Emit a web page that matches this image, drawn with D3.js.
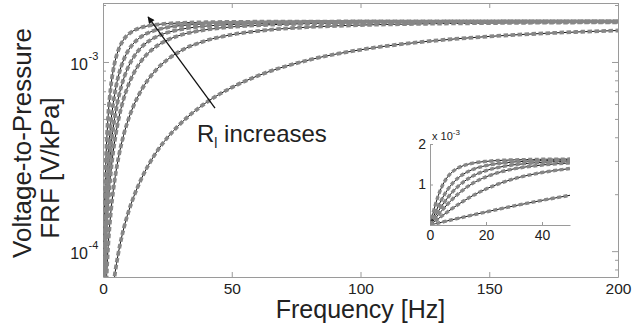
<!DOCTYPE html>
<html>
<head>
<meta charset="utf-8">
<script src="https://cdn.jsdelivr.net/npm/d3@7"></script>
<style>
  body { margin: 0; background: #fff; }
  text { font-family: Arial, "Liberation Sans", sans-serif; fill: #222; }
</style>
</head>
<body>
<div id="chart"></div>
<script>
// Frequencies of the read points [Hz]
const freqHz = [0.1, 0.25, 0.5, 1, 1.5, 2, 3, 4, 5, 6, 8, 10, 12, 15, 20, 25, 30, 40, 50, 60, 80, 100, 125, 150, 175, 200];

// FRF magnitude, in units of 10^-3 V/kPa, one array per load resistance (largest R_l first)
const frfRl6 = [0.027, 0.068, 0.136, 0.270, 0.398, 0.519, 0.733, 0.910, 1.050, 1.160, 1.312, 1.406, 1.467, 1.523, 1.571, 1.595, 1.608, 1.622, 1.628, 1.632, 1.635, 1.637, 1.638, 1.639, 1.639, 1.639];
const frfRl5 = [0.016, 0.041, 0.082, 0.163, 0.243, 0.322, 0.471, 0.609, 0.733, 0.844, 1.025, 1.160, 1.260, 1.365, 1.467, 1.523, 1.556, 1.591, 1.608, 1.618, 1.627, 1.632, 1.635, 1.636, 1.637, 1.638];
const frfRl4 = [0.012, 0.029, 0.059, 0.117, 0.175, 0.232, 0.344, 0.451, 0.552, 0.646, 0.814, 0.953, 1.067, 1.199, 1.344, 1.431, 1.486, 1.548, 1.579, 1.597, 1.615, 1.624, 1.630, 1.633, 1.635, 1.636];
const frfRl3 = [0.009, 0.022, 0.043, 0.086, 0.129, 0.172, 0.256, 0.338, 0.417, 0.494, 0.637, 0.764, 0.876, 1.018, 1.189, 1.306, 1.386, 1.481, 1.533, 1.563, 1.596, 1.611, 1.621, 1.627, 1.630, 1.633];
const frfRl2 = [0.005, 0.013, 0.027, 0.053, 0.079, 0.106, 0.158, 0.210, 0.261, 0.312, 0.410, 0.504, 0.592, 0.714, 0.889, 1.029, 1.141, 1.296, 1.394, 1.457, 1.529, 1.567, 1.592, 1.606, 1.615, 1.621];
const frfRl1 = [0.0016, 0.0041, 0.0082, 0.0164, 0.0246, 0.0328, 0.0492, 0.0655, 0.0819, 0.0982, 0.131, 0.163, 0.195, 0.243, 0.322, 0.398, 0.471, 0.609, 0.733, 0.844, 1.025, 1.160, 1.281, 1.365, 1.424, 1.467];

// Ticks
const xTicks = [0, 50, 100, 150, 200];
const yMajorTicks = [1e-4, 1e-3];
const yMajorExp = ["-4", "-3"];
const yMinorTicks = [8e-5, 9e-5, 2e-4, 3e-4, 4e-4, 5e-4, 6e-4, 7e-4, 8e-4, 9e-4, 2e-3];
const insetXTicks = [0, 20, 40];
const insetYTicks = [0, 1, 2];   // x 10^-3

// Annotation (data coordinates)
const arrowFrom = {f: 43.5, v: 5.7e-4};
const arrowTo = {f: 17.5, v: 1.73e-3};
const noteAt = {f: 36.5, v: 3.78e-4};

const curves = [frfRl6, frfRl5, frfRl4, frfRl3, frfRl2, frfRl1]
  .map(vals => vals.map((v, i) => ({f: freqHz[i], v: v * 1e-3})));

const W = 634, H = 331;
const margin = {top: 3, right: 16, bottom: 54, left: 103};

const svg = d3.select("#chart").append("svg")
  .attr("width", W).attr("height", H);

const defs = svg.append("defs");
defs.append("marker")
  .attr("id", "arrowhead")
  .attr("viewBox", "0 0 10 10")
  .attr("refX", 9).attr("refY", 5)
  .attr("markerWidth", 9).attr("markerHeight", 7)
  .attr("markerUnits", "userSpaceOnUse")
  .attr("orient", "auto")
  .append("path").attr("d", "M0,0 L10,5 L0,10 Z").attr("fill", "#111");

// Main scales
const x = d3.scaleLinear().domain([0, 200]).range([margin.left, W - margin.right]);
const y = d3.scaleLog().domain([7.3e-5, 2.05e-3]).range([H - margin.bottom, margin.top]);

defs.append("clipPath").attr("id", "clip-main")
  .append("rect")
  .attr("x", x(0)).attr("y", y(2.05e-3))
  .attr("width", x(200) - x(0)).attr("height", y(7.3e-5) - y(2.05e-3));

const axisColor = "#9a9a9a";
function styleAxis(g) {
  g.selectAll(".domain").attr("stroke", axisColor);
  g.selectAll(".tick line").attr("stroke", axisColor);
}

// Bottom axis with labels
svg.append("g")
  .attr("transform", "translate(0," + y(7.3e-5) + ")")
  .call(d3.axisBottom(x).tickValues(xTicks).tickSizeInner(-5).tickSizeOuter(0).tickPadding(6))
  .call(styleAxis)
  .call(g => g.selectAll("text").attr("font-size", 15.5).attr("fill", "#222"));
// Top axis
svg.append("g")
  .attr("transform", "translate(0," + y(2.05e-3) + ")")
  .call(d3.axisTop(x).tickValues(xTicks).tickSizeInner(-5).tickSizeOuter(0).tickFormat(""))
  .call(styleAxis);
// Left / right, major and minor
[[d3.axisLeft, x(0)], [d3.axisRight, x(200)]].forEach(([ax, px]) => {
  svg.append("g").attr("transform", "translate(" + px + ",0)")
    .call(ax(y).tickValues(yMajorTicks).tickSizeInner(-6).tickSizeOuter(0).tickFormat(""))
    .call(styleAxis);
  svg.append("g").attr("transform", "translate(" + px + ",0)")
    .call(ax(y).tickValues(yMinorTicks).tickSizeInner(-3).tickSizeOuter(0).tickFormat(""))
    .call(styleAxis)
    .call(g => g.select(".domain").remove());
});

// 10^n labels
const yLab = svg.append("g");
yMajorTicks.forEach((t, i) => {
  yLab.append("text").attr("x", x(0) - 15).attr("y", y(t) + 8)
    .attr("text-anchor", "end").attr("font-size", 16).text("10");
  yLab.append("text").attr("x", x(0) - 14.5).attr("y", y(t) - 2)
    .attr("font-size", 11).text(yMajorExp[i]);
});

// Curves: model (black) under measurement (grey dashes)
const line = d3.line()
  .x(d => x(d.f))
  .y(d => y(d.v))
  .curve(d3.curveMonotoneX);

const plot = svg.append("g").attr("clip-path", "url(#clip-main)");
plot.selectAll(".model").data(curves).enter().append("path")
  .attr("class", "model")
  .attr("d", line)
  .attr("fill", "none").attr("stroke", "#111").attr("stroke-width", 1);
plot.selectAll(".meas").data(curves).enter().append("path")
  .attr("class", "meas")
  .attr("d", line)
  .attr("fill", "none").attr("stroke", "#878787")
  .attr("stroke-width", 3.8).attr("stroke-dasharray", "4.5,2.5");

// Axis titles
svg.append("text")
  .attr("x", (x(0) + x(200)) / 2).attr("y", 318)
  .attr("text-anchor", "middle").attr("font-size", 25)
  .text("Frequency [Hz]");
svg.append("text")
  .attr("transform", "translate(31,143) rotate(-90)")
  .attr("text-anchor", "middle").attr("font-size", 26)
  .text("Voltage-to-Pressure");
svg.append("text")
  .attr("transform", "translate(59,168) rotate(-90)")
  .attr("text-anchor", "middle").attr("font-size", 26)
  .text("FRF [V/kPa]");

// Arrow + note
svg.append("line")
  .attr("x1", x(arrowFrom.f)).attr("y1", y(arrowFrom.v))
  .attr("x2", x(arrowTo.f)).attr("y2", y(arrowTo.v))
  .attr("stroke", "#111").attr("stroke-width", 1.3)
  .attr("marker-end", "url(#arrowhead)");
const note = svg.append("text")
  .attr("x", x(noteAt.f)).attr("y", y(noteAt.v))
  .attr("font-size", 24);
note.append("tspan").text("R");
note.append("tspan").attr("font-size", 14).attr("dy", 6).text("l");
note.append("tspan").attr("dy", -6).text(" increases");

// Inset
const ix = d3.scaleLinear().domain([0, 50]).range([430, 570]);
const iy = d3.scaleLinear().domain([0, 2e-3]).range([225, 144]);

defs.append("clipPath").attr("id", "clip-inset")
  .append("rect")
  .attr("x", ix(0)).attr("y", iy(2e-3))
  .attr("width", ix(50) - ix(0)).attr("height", iy(0) - iy(2e-3));

svg.append("g")
  .attr("transform", "translate(0," + iy(0) + ")")
  .call(d3.axisBottom(ix).tickValues(insetXTicks).tickSizeInner(-3).tickSizeOuter(0).tickPadding(5))
  .call(styleAxis)
  .call(g => g.selectAll("text").attr("font-size", 14).attr("fill", "#222"));
svg.append("g")
  .attr("transform", "translate(" + ix(0) + ",0)")
  .call(d3.axisLeft(iy).tickValues(insetYTicks.map(v => v * 1e-3)).tickSizeInner(-3).tickSizeOuter(0)
    .tickPadding(4).tickFormat((d, i) => i === 0 ? "" : insetYTicks[i]))
  .call(styleAxis)
  .call(g => g.selectAll("text").attr("font-size", 14).attr("fill", "#222"));

const insetMul = svg.append("text").attr("x", ix(0) + 2).attr("y", iy(2e-3) - 4).attr("font-size", 11);
insetMul.append("tspan").text("x 10");
insetMul.append("tspan").attr("font-size", 8).attr("dy", -5).text("-3");

const iline = d3.line()
  .x(d => ix(d.f))
  .y(d => iy(d.v))
  .curve(d3.curveMonotoneX);
const inset = svg.append("g").attr("clip-path", "url(#clip-inset)");
const insetData = curves.map(c => [{f: 0, v: 0}].concat(c.filter(d => d.f <= 50)));
inset.selectAll(".imodel").data(insetData).enter().append("path")
  .attr("d", iline)
  .attr("fill", "none").attr("stroke", "#111").attr("stroke-width", 1);
inset.selectAll(".imeas").data(insetData).enter().append("path")
  .attr("d", iline)
  .attr("fill", "none").attr("stroke", "#878787")
  .attr("stroke-width", 3.4).attr("stroke-dasharray", "4,2.5");
</script>
</body>
</html>
